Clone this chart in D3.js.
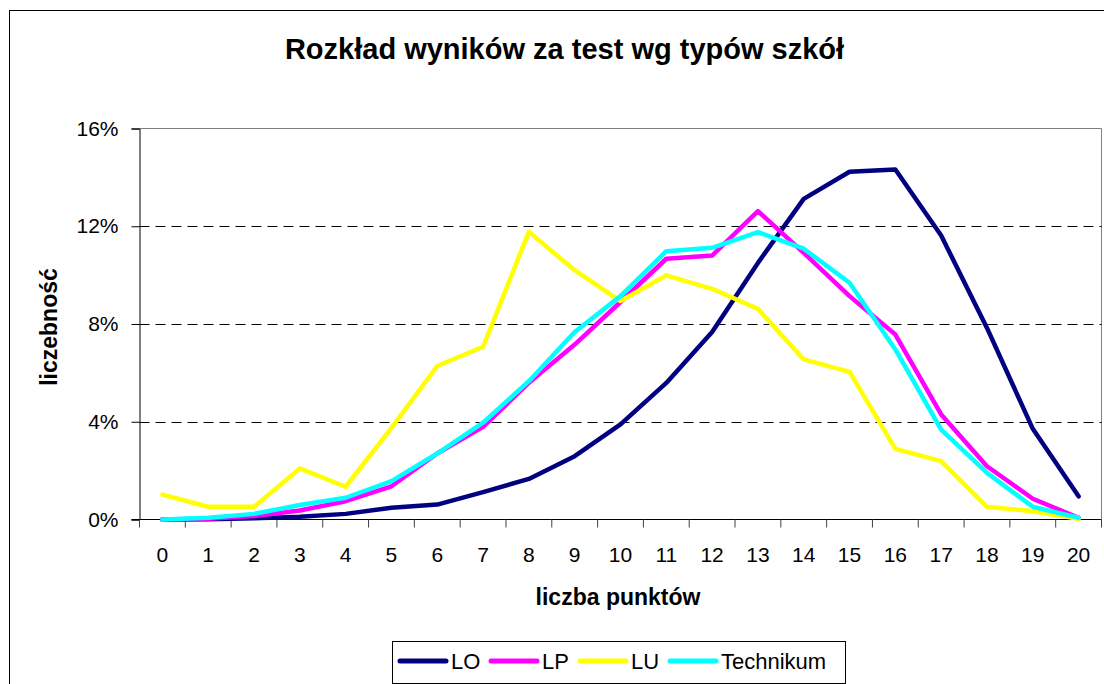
<!DOCTYPE html>
<html>
<head>
<meta charset="utf-8">
<script src="https://cdn.jsdelivr.net/npm/d3@7"></script>
<style>
  body { margin: 0; background: #fff; }
  svg { display: block; font-family: "Liberation Sans", Arial, sans-serif; }
</style>
</head>
<body>
<svg width="1104" height="684"></svg>
<script>
var categories = d3.range(0, 21).map(String);
var yTicks = [0, 0.04, 0.08, 0.12, 0.16];

var seriesNames = ["LO", "LP", "LU", "Technikum"];
var seriesColors = ["#000080", "#ff00ff", "#ffff00", "#00ffff"];

var LO = [0, 0.01, 0.05, 0.11, 0.23, 0.48, 0.61, 1.12, 1.66, 2.59, 3.89,
          5.59, 7.67, 10.5, 13.12, 14.23, 14.32, 11.62, 7.84, 3.71, 0.95];
var LP = [0, 0.03, 0.14, 0.37, 0.75, 1.36, 2.7, 3.79, 5.59, 7.16, 8.9,
          10.67, 10.8, 12.62, 10.91, 9.14, 7.57, 4.3, 2.18, 0.85, 0.07];
var LU = [1.02, 0.52, 0.52, 2.09, 1.34, 3.75, 6.28, 7.07, 11.77, 10.2, 8.94,
          9.99, 9.44, 8.62, 6.55, 6.04, 2.89, 2.39, 0.52, 0.34, 0.03];
var Technikum = [0, 0.07, 0.23, 0.59, 0.89, 1.57, 2.7, 3.96, 5.66, 7.67, 9.14,
          10.98, 11.12, 11.76, 11.08, 9.69, 6.96, 3.68, 1.91, 0.52, 0.07];

var seriesValues = [LO, LP, LU, Technikum];

var svg = d3.select("svg"),
    margin = {top: 128.5, right: 1101.5, bottom: 519.5, left: 139.5};

// outer chart frame (runs off the window on the right and bottom)
svg.append("rect")
    .attr("x", 9.5).attr("y", 10.5)
    .attr("width", 1110).attr("height", 690)
    .attr("fill", "#fff")
    .attr("stroke", "#000");

svg.append("text")
    .attr("x", 564.5).attr("y", 59)
    .attr("text-anchor", "middle")
    .style("font-size", "29px").style("font-weight", "bold")
    .text("Rozkład wyników za test wg typów szkół");

var x = d3.scaleBand()
    .domain(categories)
    .range([margin.left, margin.right]);

var y = d3.scaleLinear()
    .domain([0, 0.16])
    .range([margin.bottom, margin.top]);

// plot border (top and right, grey)
svg.append("path")
    .attr("d", "M" + margin.left + "," + margin.top + "H" + margin.right + "V" + margin.bottom)
    .attr("fill", "none")
    .attr("stroke", "#808080");

// gridlines
svg.append("g")
    .selectAll("line")
    .data(yTicks.filter(function(d) { return d > 0 && d < 0.16; }))
    .enter().append("line")
    .attr("x1", margin.left).attr("x2", margin.right)
    .attr("y1", function(d) { return Math.round(y(d)) + 0.5; })
    .attr("y2", function(d) { return Math.round(y(d)) + 0.5; })
    .attr("stroke", "#000")
    .attr("stroke-dasharray", "10,6");

// y axis
var yAxis = svg.append("g")
    .attr("transform", "translate(" + margin.left + ",0)")
    .call(d3.axisLeft(y).tickValues(yTicks).tickFormat(d3.format(".0%")).tickSize(8).tickPadding(13));
yAxis.select(".domain").attr("stroke", "#000");
yAxis.selectAll(".tick line").attr("stroke", "#000");
yAxis.selectAll("text")
    .style("font-size", "21px")
    .attr("fill", "#000")
    .attr("font-family", null);

// x axis: ticks at category boundaries, labels at centres
var boundaries = categories.map(function(c) { return x(c); }).concat([margin.right]);
var xg = svg.append("g");
xg.append("line")
    .attr("x1", margin.left - 8).attr("x2", margin.right)
    .attr("y1", margin.bottom).attr("y2", margin.bottom)
    .attr("stroke", "#000");
xg.selectAll(".xtick")
    .data(boundaries)
    .enter().append("line")
    .attr("class", "xtick")
    .attr("x1", function(d) { return d; }).attr("x2", function(d) { return d; })
    .attr("y1", margin.bottom).attr("y2", margin.bottom + 8)
    .attr("stroke", "#404040");
xg.selectAll(".xlabel")
    .data(categories)
    .enter().append("text")
    .attr("class", "xlabel")
    .attr("x", function(d) { return x(d) + x.bandwidth() / 2; })
    .attr("y", 562)
    .attr("text-anchor", "middle")
    .style("font-size", "21px")
    .text(function(d) { return d; });

svg.append("text")
    .attr("x", 618).attr("y", 605)
    .attr("text-anchor", "middle")
    .style("font-size", "23px").style("font-weight", "bold")
    .text("liczba punktów");

svg.append("text")
    .attr("transform", "translate(57,327) rotate(-90)")
    .attr("text-anchor", "middle")
    .style("font-size", "23px").style("font-weight", "bold")
    .text("liczebność");

// series lines
var line = d3.line()
    .x(function(d, i) { return x(categories[i]) + x.bandwidth() / 2; })
    .y(function(d) { return y(d / 100); });

svg.append("g")
    .selectAll("path")
    .data(seriesValues)
    .enter().append("path")
    .attr("fill", "none")
    .attr("stroke", function(d, i) { return seriesColors[i]; })
    .attr("stroke-width", 4.5)
    .attr("stroke-linejoin", "round")
    .attr("stroke-linecap", "round")
    .attr("d", line);

// legend
var legend = svg.append("g");
legend.append("rect")
    .attr("x", 392.5).attr("y", 641.5)
    .attr("width", 453).attr("height", 42)
    .attr("fill", "#fff")
    .attr("stroke", "#000");

var legendX = [400, 491, 580, 670];
var item = legend.selectAll(".item")
    .data(seriesNames)
    .enter().append("g")
    .attr("class", "item")
    .attr("transform", function(d, i) { return "translate(" + legendX[i] + ",0)"; });
item.append("line")
    .attr("x1", 0).attr("x2", 46)
    .attr("y1", 661).attr("y2", 661)
    .attr("stroke", function(d, i) { return seriesColors[i]; })
    .attr("stroke-width", 5)
    .attr("stroke-linecap", "round");
item.append("text")
    .attr("x", 51).attr("y", 669)
    .style("font-size", "22px")
    .text(function(d) { return d; });
</script>
</body>
</html>
